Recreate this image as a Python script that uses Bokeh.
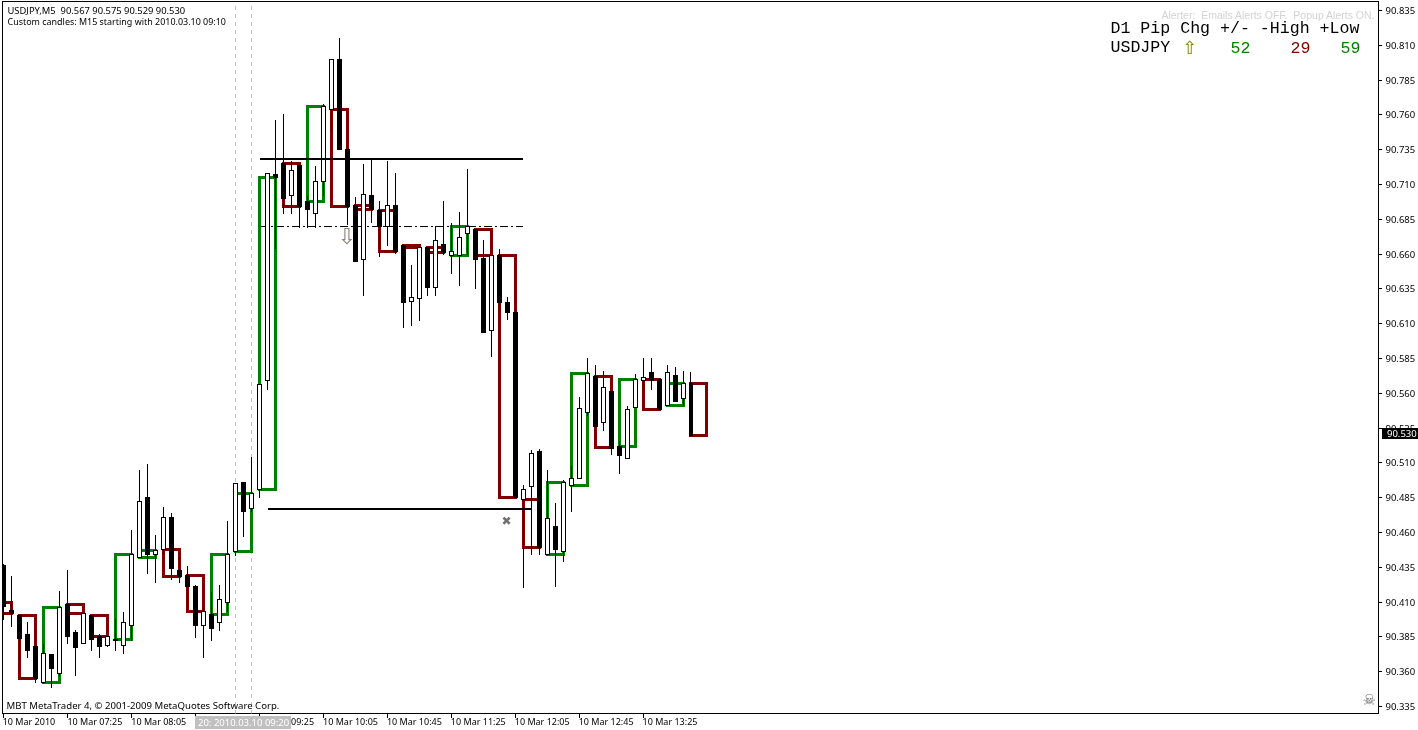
from bokeh.embed import file_html
from bokeh.resources import INLINE
from bokeh.plotting import figure
from bokeh.models import Range1d, FixedTicker, Label, NumeralTickFormatter, Div
from bokeh.core.properties import value

# M5 candles, 10 Mar 2010 from 06:45
OPEN = [90.436,90.404,90.400,90.387,90.378,90.352,90.372,90.359,90.408,90.388,90.380,90.400,90.385,90.379,90.383,90.379,90.393,90.442,90.485,90.444,
        90.448,90.471,90.433,90.429,90.421,90.393,90.401,90.395,90.410,90.446,90.496,90.477,90.491,90.569,90.717,90.725,90.702,90.724,90.698,90.689,
        90.712,90.764,90.800,90.735,90.695,90.656,90.702,90.691,90.680,90.695,90.666,90.626,90.628,90.665,90.636,90.667,90.659,90.659,90.675,90.678,
        90.657,90.605,90.659,90.625,90.618,90.484,90.493,90.518,90.444,90.464,90.446,90.494,90.499,90.546,90.572,90.539,90.561,90.522,90.513,90.550,
        90.569,90.575,90.570,90.551,90.573,90.556,90.567]
HIGH = [90.437,90.429,90.400,90.396,90.390,90.380,90.373,90.418,90.433,90.390,90.402,90.400,90.387,90.385,90.398,90.403,90.462,90.505,90.509,90.458,
        90.478,90.474,90.442,90.436,90.422,90.406,90.417,90.422,90.468,90.495,90.496,90.514,90.566,90.718,90.756,90.761,90.727,90.724,90.702,90.723,
        90.768,90.800,90.815,90.738,90.701,90.725,90.728,90.698,90.727,90.718,90.667,90.652,90.665,90.665,90.680,90.698,90.682,90.690,90.721,90.678,
        90.670,90.659,90.664,90.629,90.621,90.494,90.519,90.520,90.505,90.481,90.498,90.508,90.557,90.585,90.580,90.576,90.561,90.526,90.551,90.574,
        90.585,90.585,90.571,90.580,90.579,90.576,90.575]
LOW = [90.397,90.392,90.368,90.370,90.352,90.351,90.348,90.356,90.380,90.357,90.380,90.375,90.370,90.378,90.375,90.373,90.382,90.442,90.430,90.424,
       90.444,90.426,90.424,90.403,90.384,90.370,90.382,90.389,90.403,90.443,90.457,90.475,90.485,90.562,90.664,90.689,90.689,90.679,90.679,90.679,
       90.702,90.748,90.735,90.681,90.654,90.630,90.682,90.658,90.666,90.660,90.607,90.608,90.612,90.630,90.630,90.659,90.646,90.637,90.659,90.635,
       90.604,90.586,90.620,90.613,90.485,90.420,90.444,90.444,90.444,90.421,90.439,90.475,90.499,90.544,90.536,90.533,90.516,90.502,90.513,90.550,
       90.562,90.562,90.548,90.551,90.554,90.551,90.529]
CLOSE = [90.407,90.402,90.384,90.375,90.355,90.373,90.362,90.406,90.385,90.377,90.402,90.383,90.378,90.385,90.382,90.395,90.444,90.482,90.444,90.447,
         90.471,90.434,90.428,90.421,90.393,90.403,90.391,90.412,90.444,90.495,90.475,90.488,90.566,90.718,90.715,90.700,90.720,90.694,90.692,90.712,
         90.766,90.800,90.735,90.694,90.655,90.703,90.692,90.680,90.695,90.662,90.625,90.629,90.665,90.636,90.670,90.661,90.662,90.672,90.680,90.656,
         90.604,90.659,90.625,90.618,90.485,90.491,90.517,90.449,90.470,90.448,90.496,90.499,90.549,90.574,90.536,90.564,90.520,90.515,90.548,90.570,
         90.571,90.569,90.548,90.575,90.554,90.567,90.530]

# Custom M15 candles: first M5 bar, open, close
M15_START = [-1,2,5,8,11,14,17,20,23,26,29,32,35,38,41,44,47,50,53,56,59,62,65,68,71,74,77,80,83,86]
M15_OPEN = [90.410,90.400,90.352,90.408,90.400,90.383,90.442,90.448,90.429,90.401,90.446,90.491,90.725,90.698,90.764,90.695,90.691,90.666,90.665,90.659,
            90.678,90.659,90.484,90.444,90.494,90.572,90.522,90.570,90.551,90.567]
M15_CLOSE = [90.402,90.355,90.406,90.402,90.385,90.444,90.447,90.428,90.403,90.444,90.488,90.715,90.694,90.766,90.694,90.692,90.662,90.665,90.661,90.680,
             90.659,90.485,90.449,90.496,90.574,90.521,90.570,90.548,90.567,90.530]

PRICE_TICKS = [90.335,90.360,90.385,90.410,90.435,90.460,90.485,90.510,90.535,90.560,90.585,90.610,90.635,90.660,90.685,90.710,90.735,90.760,90.785,90.810,90.835]
TIME_TICKS = [0,8,16,24,32,40,48,56,64,72,80]
TIME_LABELS = ["10 Mar 2010","10 Mar 07:25","10 Mar 08:05","10 Mar 08:45","10 Mar 09:25","10 Mar 10:05","10 Mar 10:45","10 Mar 11:25","10 Mar 12:05","10 Mar 12:45","10 Mar 13:25"]

LEVEL_HIGH = 90.728
LEVEL_LOW = 90.4765
LEVEL_DASH = 90.680
PERIOD_LINES = [29,31]

W, H = 1418, 730
FRAME_BOTTOM = 713
FONT = "Noto Sans"
GREEN, RED = "#008000", "#800000"
NB = "\u00a0"

y0, y1 = 90.3299, 90.8415
p = figure(width=W, height=H, output_backend="svg", toolbar_location=None,
           x_range=Range1d(-0.1875, 172.0625), y_range=Range1d(y0, y1),
           y_axis_location="right", min_border_left=2, min_border_right=37,
           min_border_top=1, min_border_bottom=H - FRAME_BOTTOM, background_fill_color="white",
           border_fill_color="white", outline_line_color="black", outline_line_width=1,
           styles={"position": "fixed", "left": "0px", "top": "0px", "shape-rendering": "crispEdges"})
p.grid.visible = False

ya = p.yaxis[0]
ya.ticker = FixedTicker(ticks=PRICE_TICKS)
ya.formatter = NumeralTickFormatter(format="0.000")
ya.major_tick_in, ya.major_tick_out = 0, 3
ya.minor_tick_line_color = None
ya.major_label_standoff = 4
ya.major_label_text_font = FONT
ya.major_label_text_font_size = "9.5px"
ya.major_label_text_color = "black"
ya.axis_line_color = None

# Time labels run to the right of their tick: the marks are the axis's minor ticks,
# the labels its major ticks, set half a label further along.
label_pos = [t + (3.125 if i == 0 else 3.375) for i, t in enumerate(TIME_TICKS)]
xa = p.xaxis[0]
xa.ticker = FixedTicker(ticks=label_pos, minor_ticks=TIME_TICKS)
xa.major_label_overrides = dict(zip(label_pos, TIME_LABELS))
xa.major_tick_in, xa.major_tick_out = 0, 0
xa.minor_tick_in, xa.minor_tick_out = 0, 4
xa.minor_tick_line_color = "black"
xa.major_label_standoff = -3
xa.major_label_text_font = FONT
xa.major_label_text_font_size = "9px"
xa.major_label_text_color = "black"
xa.axis_line_color = None

# vertical period separators
p.segment(x0=PERIOD_LINES, x1=PERIOD_LINES, y0=[y0]*2, y1=[y1]*2, line_color="#c0c0c0", line_width=1, line_dash="4 4")
# dash-dot level
p.line([32, 65], [LEVEL_DASH]*2, line_color="black", line_width=1, line_dash="8 3 2 3")

# M15 custom candles
idx = list(range(len(OPEN)))
m15_color = [GREEN if c > o else RED for o, c in zip(M15_OPEN, M15_CLOSE)]
p.quad(left=M15_START, right=[s + 2 for s in M15_START],
       top=[max(a, b) for a, b in zip(M15_OPEN, M15_CLOSE)],
       bottom=[min(a, b) for a, b in zip(M15_OPEN, M15_CLOSE)],
       fill_alpha=0, line_color=m15_color, line_width=3, line_join="miter")

# M5 candles
p.segment(x0=idx, x1=idx, y0=LOW, y1=HIGH, line_color="black", line_width=1)
p.vbar(x=idx, width=0.5, top=[max(a, b) for a, b in zip(OPEN, CLOSE)],
       bottom=[min(a, b) for a, b in zip(OPEN, CLOSE)],
       fill_color=["white" if c > o else "black" for o, c in zip(OPEN, CLOSE)],
       line_color="black", line_width=1, line_join="miter")

# solid levels
p.line([32, 65], [LEVEL_HIGH]*2, line_color="black", line_width=2)
p.line([33, 66], [LEVEL_LOW]*2, line_color="black", line_width=2)

# arrow and cross objects
p.text(x=[42.9], y=[90.673], text=["\u21e9"], text_color="#8a8078", text_font=value("DejaVu Sans"),
       text_font_size="22px", text_align="center", text_baseline="middle")
p.text(x=[62.9], y=[90.468], text=["\u2716"], text_color="#707070", text_font=value("DejaVu Sans"),
       text_font_size="12px", text_align="center", text_baseline="middle")


def lab(x, y, text, color="black", font=FONT, size="9.6px", **kw):
    p.add_layout(Label(x=x - 2, y=FRAME_BOTTOM - y, text=text, x_units="screen", y_units="screen",
                       text_color=color, text_font=font, text_font_size=size,
                       text_baseline="middle", **kw))


lab(7, 10, f"USDJPY,M5{NB}{NB}90.567 90.575 90.529 90.530", size="9.4px")
lab(7, 20.5, "Custom candles: M15 starting with 2010.03.10 09:10", size="8.95px")
lab(6, 704.5, "MBT MetaTrader 4, \u00a9 2001-2009 MetaQuotes Software Corp.")
lab(1161, 14, f"Alerter:{NB}{NB}Emails Alerts OFF.{NB}{NB}Popup Alerts ON.", color="#d3d3d3", font="Liberation Sans", size="10.5px")
MONO = "Liberation Mono"
lab(1110, 28, "D1 Pip Chg +/- -High +Low", font=MONO, size="16.6px")
lab(1110, 47, "USDJPY", font=MONO, size="16.6px")
lab(1182, 47, "\u21e7", color="#808000", font="DejaVu Sans", size="18px")
lab(1230, 47, "52", color=GREEN, font=MONO, size="16.6px")
lab(1290, 47, "29", color=RED, font=MONO, size="16.6px")
lab(1340, 47, "59", color=GREEN, font=MONO, size="16.6px")
lab(1362, 699, "\u2620", color="#707070", font="DejaVu Sans", size="15px")


def tag(left, top, width, height, text, bg, pad):
    return Div(text=text, width=width, height=height, margin=0,
               styles={"position": "fixed", "left": f"{left}px", "top": f"{top}px", "background": bg,
                       "color": "white", "font-family": FONT, "font-size": "9.5px",
                       "line-height": f"{height}px", "padding-left": f"{pad}px",
                       "box-sizing": "border-box", "white-space": "nowrap", "overflow": "hidden"})


time_tag = tag(195, 716, 96, 13, "20: 2010.03.10 09:20", "#c0c0c0", 3)
price_tag = tag(1382, 428, 36, 11, "90.530", "black", 5)

open("out.html", "w").write(file_html([p, time_tag, price_tag], INLINE))
